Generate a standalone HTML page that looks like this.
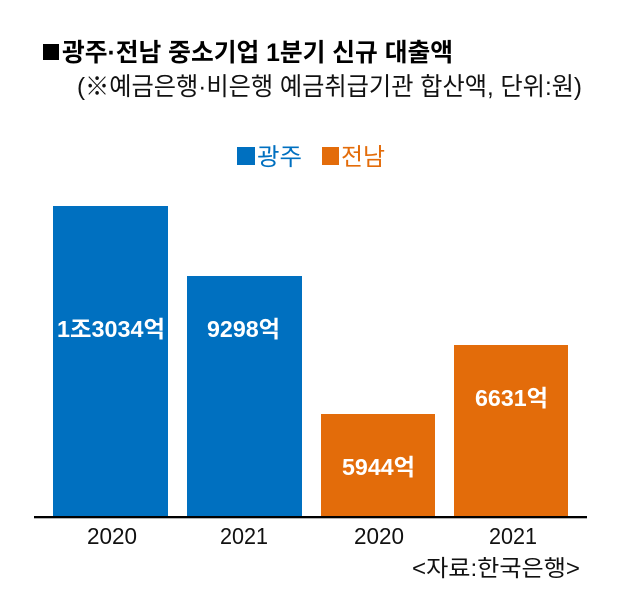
<!DOCTYPE html>
<html><head><meta charset="utf-8"><style>
html,body{margin:0;padding:0;background:#fff;}
svg{display:block;}
text{font-family:"Liberation Sans","Noto Sans CJK KR",sans-serif;}
</style></head><body>
<svg width="620" height="606" viewBox="0 0 620 606" xmlns="http://www.w3.org/2000/svg">
<rect x="0" y="0" width="620" height="606" fill="#fff"/>
<!-- title -->
<rect x="43" y="44" width="16" height="16" fill="#000"/>
<text x="62" y="61" font-size="25" font-weight="bold" fill="#000" textLength="391" lengthAdjust="spacingAndGlyphs">광주·전남 중소기업 1분기 신규 대출액</text>
<text x="77" y="95" font-size="25" fill="#111" textLength="505" lengthAdjust="spacingAndGlyphs">(※예금은행·비은행 예금취급기관 합산액, 단위:원)</text>
<!-- legend -->
<rect x="237" y="147" width="18" height="18" fill="#0070C0"/>
<text x="257" y="165" font-size="24" fill="#0070C0" textLength="45" lengthAdjust="spacingAndGlyphs">광주</text>
<rect x="322" y="147" width="17" height="18" fill="#E36C0A"/>
<text x="341" y="165" font-size="24" fill="#E36C0A" textLength="44" lengthAdjust="spacingAndGlyphs">전남</text>
<!-- bars -->
<rect x="53" y="206" width="115" height="311" fill="#0070C0"/>
<rect x="187" y="276" width="115" height="241" fill="#0070C0"/>
<rect x="321" y="414" width="114" height="103" fill="#E36C0A"/>
<rect x="454" y="345" width="114" height="172" fill="#E36C0A"/>
<!-- bar labels -->
<text x="57" y="337" font-size="23" font-weight="bold" fill="#fff" textLength="108" lengthAdjust="spacingAndGlyphs">1조3034억</text>
<text x="207" y="337" font-size="23" font-weight="bold" fill="#fff" textLength="73" lengthAdjust="spacingAndGlyphs">9298억</text>
<text x="342" y="475" font-size="23" font-weight="bold" fill="#fff" textLength="73" lengthAdjust="spacingAndGlyphs">5944억</text>
<text x="475" y="406" font-size="23" font-weight="bold" fill="#fff" textLength="73" lengthAdjust="spacingAndGlyphs">6631억</text>
<!-- axis -->
<rect x="34" y="516" width="553" height="2.3" fill="#000"/>
<!-- x labels -->
<text x="87" y="544" font-size="23" fill="#111" textLength="50" lengthAdjust="spacingAndGlyphs">2020</text>
<text x="220" y="544" font-size="23" fill="#111" textLength="48" lengthAdjust="spacingAndGlyphs">2021</text>
<text x="354" y="544" font-size="23" fill="#111" textLength="50" lengthAdjust="spacingAndGlyphs">2020</text>
<text x="489" y="544" font-size="23" fill="#111" textLength="48" lengthAdjust="spacingAndGlyphs">2021</text>
<!-- source -->
<text x="412" y="576" font-size="23" fill="#111" textLength="168" lengthAdjust="spacingAndGlyphs">&lt;자료:한국은행&gt;</text>
</svg>
</body></html>
